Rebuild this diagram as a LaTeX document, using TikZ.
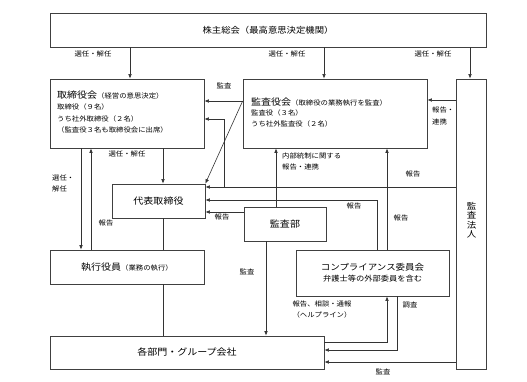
\documentclass[tikz,border=0pt]{standalone}
\usepackage{fontspec}
\setmainfont[FakeStretch=1.1]{Noto Sans CJK JP}
\usetikzlibrary{arrows.meta}
\newcommand\tzbody{\fontsize{6.7}{11}\selectfont}
\newcommand\tzhead{\fontsize{9.1}{11}\selectfont}
\newcommand\tzbig{\fontsize{9.1}{11}\selectfont}
\newcommand\tzmid{\fontsize{8.5}{11}\selectfont}
\newcommand\tzcp{\fontsize{8.6}{11}\selectfont}
\newcommand\tzsub{\fontsize{7.5}{11}\selectfont}
\begin{document}
\begin{tikzpicture}[x=1pt,y=-1pt,
  box/.style={draw=black!75, line width=0.7pt, inner sep=0pt, fill=white},
  arr/.style={draw=black!80, line width=0.6pt, -{Latex[length=4.5pt,width=3.6pt]}},
  ln/.style={draw=black!80, line width=0.6pt},
  lbl/.style={font=\tzbody, inner sep=0pt},
  txt/.style={inner sep=0pt, anchor=base west}]
\useasboundingbox[fill=white] (0,0) rectangle (527,382);

% boxes
\node[box, minimum width=436pt, minimum height=34pt] (sh) at (268,30) {\tzmid 株主総会（最高意思決定機関）};
\node[box, minimum width=154pt, minimum height=69pt] (tb) at (127,113.5) {};
\node[box, minimum width=184pt, minimum height=69pt] (kk) at (335,113.5) {};
\node[box, minimum width=30pt, minimum height=290pt] (hj) at (471,224) {};
\node[box, minimum width=93pt, minimum height=34pt] (dt) at (158.5,201) {\tzbig 代表取締役};
\node[box, minimum width=154pt, minimum height=34pt] (sy) at (127,267) {{\tzbig 執行役員}{\tzbody （業務の執行）}};
\node[box, minimum width=82pt, minimum height=34pt] (kb) at (285,224) {\tzbig 監査部};
\node[box, minimum width=153pt, minimum height=46pt, align=center, font=\tzcp] (cp) at (372.5,273) {\tzcp コンプライアンス委員会\\\tzsub 弁護士等の外部委員を含む};
\node[box, minimum width=274pt, minimum height=33pt] (kg) at (187,352.5) {\tzbig 各部門・グループ会社};

% texts inside boxes
\node[txt] (tb1) at (57,98.5) {{\tzhead 取締役会}{\tzbody （経営の意思決定）}};
\node[txt, font=\tzbody] (tb2) at (57,109.5) {取締役（９名）};
\node[txt, font=\tzbody] (tb3) at (57,121.5) {うち社外取締役（２名）};
\node[txt, font=\tzbody] (tb4) at (57,132.5) {（監査役３名も取締役会に出席）};
\node[txt] (kk1) at (251,106) {{\tzhead 監査役会}{\tzbody （取締役の業務執行を監査）}};
\node[txt, font=\tzbody] (kk2) at (251,116) {監査役（３名）};
\node[txt, font=\tzbody] (kk3) at (251,126.5) {うち社外監査役（２名）};
\node[inner sep=0pt, align=center, font=\fontsize{8.6}{9.5}\selectfont] (hjt) at (471.5,220) {監\\査\\法\\人};

% coordinates
\coordinate (X81) at (81,0);
\coordinate (X91) at (91,0);
\coordinate (X130) at (130,0);
\coordinate (X163) at (163,0);
\coordinate (X224) at (224,0);
\coordinate (X266) at (266,0);
\coordinate (X276) at (276,0);
\coordinate (X324) at (324,0);
\coordinate (X377) at (377,0);
\coordinate (X387) at (387,0);
\coordinate (X397) at (397,0);
\coordinate (X470) at (470,0);
\coordinate (Y100) at (0,100);
\coordinate (Y101) at (0,101);
\coordinate (Y119) at (0,119);
\coordinate (Y187) at (0,187);
\coordinate (Y200) at (0,200);
\coordinate (Y212) at (0,212);
\coordinate (Y342) at (0,342);
\coordinate (Y350) at (0,350);
\coordinate (Y362) at (0,362);

% connectors
\draw[arr] (X130 |- sh.south) -- (X130 |- tb.north);
\draw[arr] (X324 |- sh.south) -- (X324 |- kk.north);
\draw[arr] (X470 |- sh.south) -- (X470 |- hj.north);
\draw[arr] (kk.west |- Y101) -- (tb.east |- Y101);
\draw[arr] (kk.west |- Y101) -- (dt.north east);
\draw[arr] (hj.west |- Y100) -- (kk.east |- Y100);
\draw[arr] (hj.west |- Y187) -- (dt.east |- Y187);
\draw[arr] (X224 |- Y187) -- (X224 |- Y119) -- (tb.east |- Y119);
\draw[arr] (X276 |- kb.north) -- (X276 |- kk.south);
\draw[arr] (X387 |- cp.north) -- (X387 |- kk.south);
\draw[arr] (X377 |- cp.north) -- (X377 |- Y200) -- (dt.east |- Y200);
\draw[arr] (kb.west |- Y212) -- (dt.east |- Y212);
\draw[arr] (X81 |- tb.south) -- (X81 |- sy.north);
\draw[arr] (X91 |- sy.north) -- (X91 |- tb.south);
\draw[arr] (X163 |- tb.south) -- (X163 |- dt.north);
\draw[ln] (X163 |- dt.south) -- (X163 |- sy.north);
\draw[ln] (X163 |- sy.south) -- (X163 |- kg.north);
\draw[arr] (X266 |- kb.south) -- (X266 |- kg.north);
\draw[arr] (kg.east |- Y342) -- (X387 |- Y342) -- (X387 |- cp.south);
\draw[arr] (X397 |- cp.south) -- (X397 |- Y350) -- (kg.east |- Y350);
\draw[arr] (hj.west |- Y362) -- (kg.east |- Y362);

% labels
\node[lbl] (l1) at (93,54) {選任・解任};
\node[lbl] (l2) at (287,54) {選任・解任};
\node[lbl] (l3) at (433,54) {選任・解任};
\node[lbl] (l4) at (224,86) {監査};
\node[lbl, anchor=west, align=left, font=\fontsize{6.7}{12}\selectfont] (l5) at (432,116) {報告・\\連携};
\node[lbl] (l6) at (127,154) {選任・解任};
\node[lbl, anchor=west, align=left] (l7) at (52,183.5) {選任・\\解任};
\node[lbl] (l8) at (106,223) {報告};
\node[lbl, anchor=west, align=left] (l9) at (282,161.5) {内部統制に関する\\報告・連携};
\node[lbl] (l10) at (413,174) {報告};
\node[lbl] (l11) at (354,206) {報告};
\node[lbl] (l12) at (401,218) {報告};
\node[lbl] (l13) at (222,217) {報告};
\node[lbl] (l14) at (247,272) {監査};
\node[lbl, align=center] (l15) at (322,309.5) {報告、相談・通報\\（ヘルプライン）};
\node[lbl] (l16) at (410,305) {調査};
\node[lbl] (l17) at (383,372) {監査};
\end{tikzpicture}
\end{document}
